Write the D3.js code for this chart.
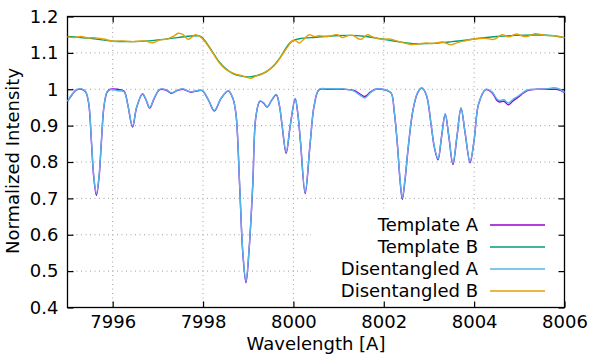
<!DOCTYPE html>
<html><head><meta charset="utf-8">
<script src="https://cdn.jsdelivr.net/npm/d3@7"></script>
<style>html,body{margin:0;padding:0;background:#fff;}svg{display:block;font-family:"DejaVu Sans",sans-serif;}</style>
</head><body>
<svg id="c" width="596" height="355"></svg>
<script>
// Lower spectrum (component A)
const wlA = [7995.00,7995.10,7995.20,7995.31,7995.40,7995.47,7995.53,7995.58,7995.64,7995.70,7995.75,7995.81,7995.88,7995.95,7996.10,7996.25,7996.33,7996.44,7996.53,7996.66,7996.74,7996.82,7996.92,7997.04,7997.18,7997.30,7997.42,7997.56,7997.72,7997.85,7997.98,7998.12,7998.25,7998.40,7998.56,7998.66,7998.73,7998.81,7998.88,7998.95,7999.02,7999.10,7999.17,7999.26,7999.34,7999.42,7999.52,7999.62,7999.69,7999.75,7999.84,7999.93,8000.04,8000.10,8000.16,8000.26,8000.37,8000.46,8000.57,8000.80,8001.10,8001.34,8001.46,8001.58,8001.70,8001.82,8002.00,8002.16,8002.23,8002.30,8002.36,8002.41,8002.47,8002.55,8002.65,8002.75,8002.84,8002.94,8003.05,8003.12,8003.20,8003.28,8003.36,8003.44,8003.53,8003.62,8003.71,8003.80,8003.91,8004.00,8004.10,8004.26,8004.40,8004.50,8004.56,8004.66,8004.76,8004.86,8004.96,8005.18,8005.40,8005.60,8005.77,8005.90,8006.00];
const templateA = [0.967,0.985,0.998,1.000,0.993,0.960,0.855,0.760,0.708,0.760,0.855,0.955,0.993,1.000,1.000,0.995,0.960,0.896,0.950,0.987,0.970,0.948,0.975,0.999,0.998,0.989,0.996,1.000,0.992,0.995,0.996,0.970,0.940,0.975,0.995,0.975,0.930,0.735,0.550,0.468,0.560,0.735,0.925,0.967,0.962,0.951,0.970,0.985,0.955,0.900,0.824,0.900,0.974,0.930,0.850,0.713,0.850,0.955,0.999,1.000,1.000,0.997,0.988,0.980,0.992,1.000,0.999,0.990,0.940,0.850,0.750,0.697,0.750,0.850,0.945,0.990,1.003,0.985,0.900,0.840,0.806,0.870,0.932,0.870,0.793,0.870,0.948,0.880,0.798,0.860,0.960,0.999,0.990,0.970,0.965,0.967,0.957,0.968,0.977,0.996,1.000,1.000,1.000,0.998,0.990];
const disentA = [0.967,0.986,0.999,1.001,0.994,0.962,0.858,0.764,0.713,0.764,0.858,0.957,0.994,0.999,0.996,0.993,0.960,0.899,0.951,0.988,0.971,0.950,0.976,1.000,0.999,0.990,0.997,1.001,0.993,0.996,0.997,0.971,0.942,0.976,0.996,0.976,0.931,0.738,0.553,0.473,0.563,0.738,0.926,0.968,0.963,0.952,0.971,0.986,0.956,0.901,0.827,0.901,0.975,0.931,0.852,0.717,0.852,0.956,1.000,1.001,1.001,0.995,0.985,0.976,0.990,1.000,1.000,0.990,0.941,0.852,0.753,0.701,0.753,0.852,0.946,0.991,1.004,0.986,0.901,0.842,0.809,0.871,0.933,0.871,0.797,0.871,0.949,0.881,0.801,0.861,0.961,1.000,0.992,0.974,0.969,0.971,0.962,0.972,0.980,0.998,1.000,1.001,1.004,1.000,0.991];

// Upper spectrum (component B)
const wlB = [7995.00,7995.50,7996.00,7996.45,7996.80,7997.19,7997.50,7997.85,7997.95,7998.05,7998.14,7998.25,7998.36,7998.50,7998.66,7998.85,7999.03,7999.20,7999.40,7999.55,7999.69,7999.82,7999.92,7999.99,8000.13,8000.50,8000.90,8001.24,8001.60,8001.97,8002.30,8002.71,8003.10,8003.44,8003.75,8004.03,8004.50,8004.92,8005.43,8005.75,8006.00];
const templateB = [1.145,1.140,1.132,1.131,1.133,1.138,1.143,1.147,1.145,1.132,1.116,1.095,1.075,1.057,1.043,1.036,1.034,1.038,1.048,1.063,1.084,1.110,1.127,1.134,1.139,1.143,1.147,1.148,1.145,1.138,1.131,1.125,1.126,1.130,1.134,1.139,1.145,1.148,1.149,1.147,1.142];
const wlDB = [7995.00,7995.15,7995.30,7995.45,7995.60,7995.80,7996.00,7996.20,7996.45,7996.70,7996.89,7997.03,7997.20,7997.35,7997.45,7997.56,7997.67,7997.75,7997.83,7997.95,7998.05,7998.14,7998.25,7998.36,7998.50,7998.62,7998.73,7998.84,7998.93,7998.99,7999.06,7999.17,7999.28,7999.40,7999.55,7999.69,7999.84,7999.99,8000.06,8000.13,8000.22,8000.35,8000.46,8000.57,8000.75,8000.97,8001.08,8001.20,8001.31,8001.49,8001.64,8001.75,8001.94,8002.12,8002.34,8002.60,8002.78,8002.93,8003.10,8003.30,8003.48,8003.63,8003.80,8004.03,8004.25,8004.44,8004.62,8004.77,8004.93,8005.05,8005.17,8005.35,8005.56,8005.80,8006.00];
const disentB = [1.144,1.142,1.145,1.141,1.142,1.138,1.132,1.133,1.131,1.133,1.128,1.135,1.138,1.146,1.154,1.150,1.137,1.143,1.150,1.143,1.130,1.114,1.093,1.073,1.055,1.047,1.041,1.038,1.034,1.032,1.030,1.036,1.040,1.049,1.062,1.083,1.111,1.134,1.133,1.127,1.136,1.150,1.145,1.147,1.145,1.150,1.142,1.147,1.148,1.137,1.150,1.144,1.137,1.138,1.131,1.123,1.125,1.127,1.126,1.130,1.122,1.128,1.133,1.139,1.140,1.137,1.150,1.144,1.152,1.147,1.145,1.153,1.148,1.147,1.142];

const xTicks = [7996,7998,8000,8002,8004,8006];
const yTicks = [0.4,0.5,0.6,0.7,0.8,0.9,1.0,1.1,1.2];
const legendLabels = ["Template A","Template B","Disentangled A","Disentangled B"];
const colors = ["#9400d3","#009e73","#56b4e9","#e69f00"];

const svg = d3.select("#c");
const L=67.5,R=564.5,T=16.5,B=307.5;
const x = d3.scaleLinear().domain([7995,8006]).range([L,R]);
const y = d3.scaleLinear().domain([0.4,1.2]).range([B,T]);

// grid
const grid = svg.append("g").attr("stroke","#a0a0a0").attr("stroke-width",1).attr("stroke-dasharray","1,3.5");
xTicks.filter(t=>t<8006).forEach(t=>grid.append("line").attr("x1",x(t)).attr("x2",x(t)).attr("y1",B).attr("y2",T));
yTicks.filter(t=>t>0.4&&t<1.2).forEach(t=>grid.append("line").attr("x1",L).attr("x2",R).attr("y1",y(t)).attr("y2",y(t)));

// legend background (opaque key)
svg.append("rect").attr("x",311).attr("y",211).attr("width",R-311-1).attr("height",B-211-1).attr("fill","#fff");

// axes (inward ticks, mirrored)
const fmt = d=>d3.format("")(+d.toFixed(1));
const gBottom = svg.append("g").attr("transform",`translate(0,${B})`).call(d3.axisBottom(x).tickValues(xTicks).tickSize(-6).tickPadding(8).tickFormat(d3.format("d")));
const gTop = svg.append("g").attr("transform",`translate(0,${T})`).call(d3.axisTop(x).tickValues(xTicks).tickSize(-6).tickFormat(""));
const gLeft = svg.append("g").attr("transform",`translate(${L},0)`).call(d3.axisLeft(y).tickValues(yTicks).tickSize(-6).tickPadding(9).tickFormat(fmt));
const gRight = svg.append("g").attr("transform",`translate(${R},0)`).call(d3.axisRight(y).tickValues(yTicks).tickSize(-6).tickFormat(""));
[gBottom,gTop,gLeft,gRight].forEach(g=>{
  g.select(".domain").remove();
  g.selectAll("line").attr("stroke","#000").attr("stroke-width",1.2);
  g.selectAll("text").attr("font-family","DejaVu Sans").attr("font-size",18).attr("fill","#000");
});
gBottom.selectAll("text").attr("dy","0.71em");
svg.append("rect").attr("x",L).attr("y",T).attr("width",R-L).attr("height",B-T).attr("fill","none").attr("stroke","#000").attr("stroke-width",1.3);

// lines
const mk = (xs,ys)=>xs.map((v,i)=>[v,ys[i]]);
const line = d3.line().x(d=>x(d[0])).y(d=>y(d[1])).curve(d3.curveCatmullRom.alpha(0.5));
const series = [mk(wlA,templateA), mk(wlB,templateB), mk(wlA,disentA), mk(wlDB,disentB)];
series.forEach((s,i)=>{
  svg.append("path").datum(s).attr("d",line).attr("fill","none").attr("stroke",colors[i]).attr("stroke-width",1.4).attr("stroke-linejoin","round");
});

// legend
legendLabels.forEach((lab,i)=>{
  const yy = 225 + i*22;
  svg.append("text").attr("x",478).attr("y",yy).attr("dy","0.35em").attr("text-anchor","end").attr("font-size",18).attr("fill","#000").text(lab);
  svg.append("line").attr("x1",490).attr("x2",545).attr("y1",yy).attr("y2",yy).attr("stroke",colors[i]).attr("stroke-width",1.4);
});

// axis titles
svg.append("text").attr("x",(L+R)/2).attr("y",350).attr("text-anchor","middle").attr("font-size",18).attr("fill","#000").text("Wavelength [A]");
svg.append("text").attr("transform","translate(19,161) rotate(-90)").attr("text-anchor","middle").attr("font-size",18).attr("fill","#000").text("Normalized Intensity");
</script>
</body></html>
